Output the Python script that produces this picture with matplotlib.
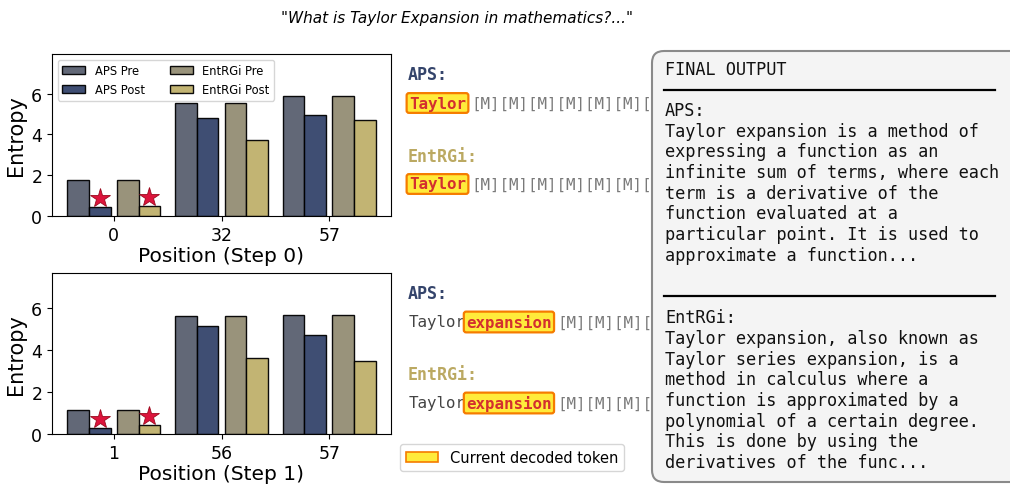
import matplotlib
matplotlib.use('Agg')
import matplotlib.pyplot as plt
import numpy as np
from matplotlib.patches import FancyBboxPatch, Patch

plt.rcParams['font.family'] = ['DejaVu Sans']

# ---------------- data ----------------
title = '"What is Taylor Expansion in mathematics?..."'
series = ['APS Pre', 'APS Post', 'EntRGi Pre', 'EntRGi Post']

step0_positions = ['0', '32', '57']
step0_aps_pre = [1.75, 5.56, 5.88]
step0_aps_post = [0.45, 4.80, 4.97]
step0_ent_pre = [1.75, 5.56, 5.88]
step0_ent_post = [0.48, 3.73, 4.69]

step1_positions = ['1', '56', '57']
step1_aps_pre = [1.17, 5.65, 5.70]
step1_aps_post = [0.27, 5.17, 4.75]
step1_ent_pre = [1.17, 5.65, 5.70]
step1_ent_post = [0.41, 3.63, 3.49]

starred_group = 0  # position currently decoded

step0_prefix = ''
step0_current = 'Taylor'
step1_prefix = 'Taylor'
step1_current = 'expansion'
mask_token = '[M]'

final_aps = ["Taylor expansion is a method of",
             "expressing a function as an",
             "infinite sum of terms, where each",
             "term is a derivative of the",
             "function evaluated at a",
             "particular point. It is used to",
             "approximate a function..."]
final_ent = ["Taylor expansion, also known as",
             "Taylor series expansion, is a",
             "method in calculus where a",
             "function is approximated by a",
             "polynomial of a certain degree.",
             "This is done by using the",
             "derivatives of the func..."]

# ---------------- style ----------------
colors = ['#5a6070', '#34446b', '#948d74', '#bfb06b']
aps_label_color = '#34446b'
ent_label_color = '#bba962'
hl_fc, hl_ec, hl_tc = '#ffeb3b', '#f57c00', '#d32f2f'
mono = 'DejaVu Sans Mono'

W, H = 1010, 485
fig = plt.figure(figsize=(W / 100, H / 100), dpi=100)

offsets = [-0.33, -0.13, 0.13, 0.33]
width = 0.2


def bar_panel(ax, positions, vals, xlabel, legend=False):
    x = np.arange(len(positions))
    for i, (v, c, lab) in enumerate(zip(vals, colors, series)):
        ax.bar(x + offsets[i], v, width, color=c, edgecolor='black',
               linewidth=1.0, label=lab, alpha=0.95)
    # stars on post-bars of the decoded position
    for i in (1, 3):
        ax.plot(x[starred_group] + offsets[i], vals[i][starred_group] + 0.43,
                marker='*', ms=15, color='#dc143c', mec='#9b0a1e', mew=0.6,
                linestyle='none', zorder=5)
    ymax = max(max(v) for v in vals) * 1.35
    ax.set_ylim(0, ymax)
    ax.set_xticks(x)
    ax.set_xticklabels(positions)
    ax.set_yticks([0, 2, 4, 6])
    ax.tick_params(labelsize=12.5)
    ax.set_ylabel('Entropy', fontsize=15)
    ax.set_xlabel(xlabel, fontsize=14.5, labelpad=2)
    if legend:
        ax.legend(loc='upper left', ncol=2, fontsize=8.3, frameon=True,
                  borderaxespad=0.5, columnspacing=2.2)


ax1 = fig.add_axes([52 / W, 1 - 217 / H, 339 / W, 162 / H])
bar_panel(ax1, step0_positions,
          [step0_aps_pre, step0_aps_post, step0_ent_pre, step0_ent_post],
          'Position (Step 0)', legend=True)
ax2 = fig.add_axes([52 / W, 1 - 435 / H, 339 / W, 161 / H])
bar_panel(ax2, step1_positions,
          [step1_aps_pre, step1_aps_post, step1_ent_pre, step1_ent_post],
          'Position (Step 1)')

# overlay in pixel coordinates for text panels
ov = fig.add_axes([0, 0, 1, 1])
ov.set_xlim(0, W)
ov.set_ylim(H, 0)
ov.set_axis_off()

ov.text(457, 18, title, fontsize=11, style='italic', ha='center', va='center')

fs_tok = 11.4
cw = 0.602 * fs_tok * 100 / 72
box_left = 652


def token_row(y_label, y_row, label, lcolor, prefix, current):
    ov.text(408, y_label, label, fontsize=12, family=mono, weight='bold',
            color=lcolor, ha='left', va='center', zorder=2)
    x = 409
    if prefix:
        ov.text(x, y_row, prefix, fontsize=fs_tok, family=mono, color='#444444',
                ha='left', va='center', zorder=2)
        x += len(prefix) * cw
    ov.text(x, y_row, current, fontsize=fs_tok, family=mono, weight='bold',
            color=hl_tc, ha='left', va='center', zorder=3,
            bbox=dict(boxstyle='round,pad=0.15', fc=hl_fc, ec=hl_ec, lw=1.6))
    x += len(current) * cw + 5
    n = int(round((box_left - x) / cw))
    ov.text(x, y_row, (mask_token * 20)[:n], fontsize=fs_tok, family=mono,
            color='#7a7a7a', ha='left', va='center', zorder=2)


token_row(75, 104, 'APS:', aps_label_color, step0_prefix, step0_current)
token_row(157, 185, 'EntRGi:', ent_label_color, step0_prefix, step0_current)
token_row(294, 323, 'APS:', aps_label_color, step1_prefix, step1_current)
token_row(375, 404, 'EntRGi:', ent_label_color, step1_prefix, step1_current)

# final output box
box = FancyBboxPatch((box_left, 52), 400, 431, boxstyle='round,pad=0,rounding_size=12',
                     fc='#f4f4f4', ec='#8a8a8a', lw=1.5, zorder=10, clip_on=False)
ov.add_patch(box)

fs_fin = 12.2
ov.text(665, 70, 'FINAL OUTPUT', fontsize=fs_fin, family=mono, color='#111111',
        ha='left', va='center', zorder=11)
ov.plot([664, 995], [91, 91], color='black', lw=1.6, zorder=11, clip_on=False)
ov.plot([664, 995], [297, 297], color='black', lw=1.6, zorder=11, clip_on=False)
dy = 20.65
for block_y, head, lines in ((111, 'APS:', final_aps), (318.3, 'EntRGi:', final_ent)):
    for i, s in enumerate([head] + lines):
        ov.text(665, block_y + i * dy, s, fontsize=fs_fin, family=mono,
                color='#111111', ha='left', va='center', zorder=11)

# legend for highlighted token
fig.legend(handles=[Patch(fc=hl_fc, ec=hl_ec, lw=1.2)],
           labels=['Current decoded token'], loc='lower left',
           bbox_to_anchor=(400 / W, 1 - 472 / H), borderaxespad=0,
           fontsize=10.5, frameon=True, handlelength=2.2)

fig.savefig('out.png', dpi=100)
